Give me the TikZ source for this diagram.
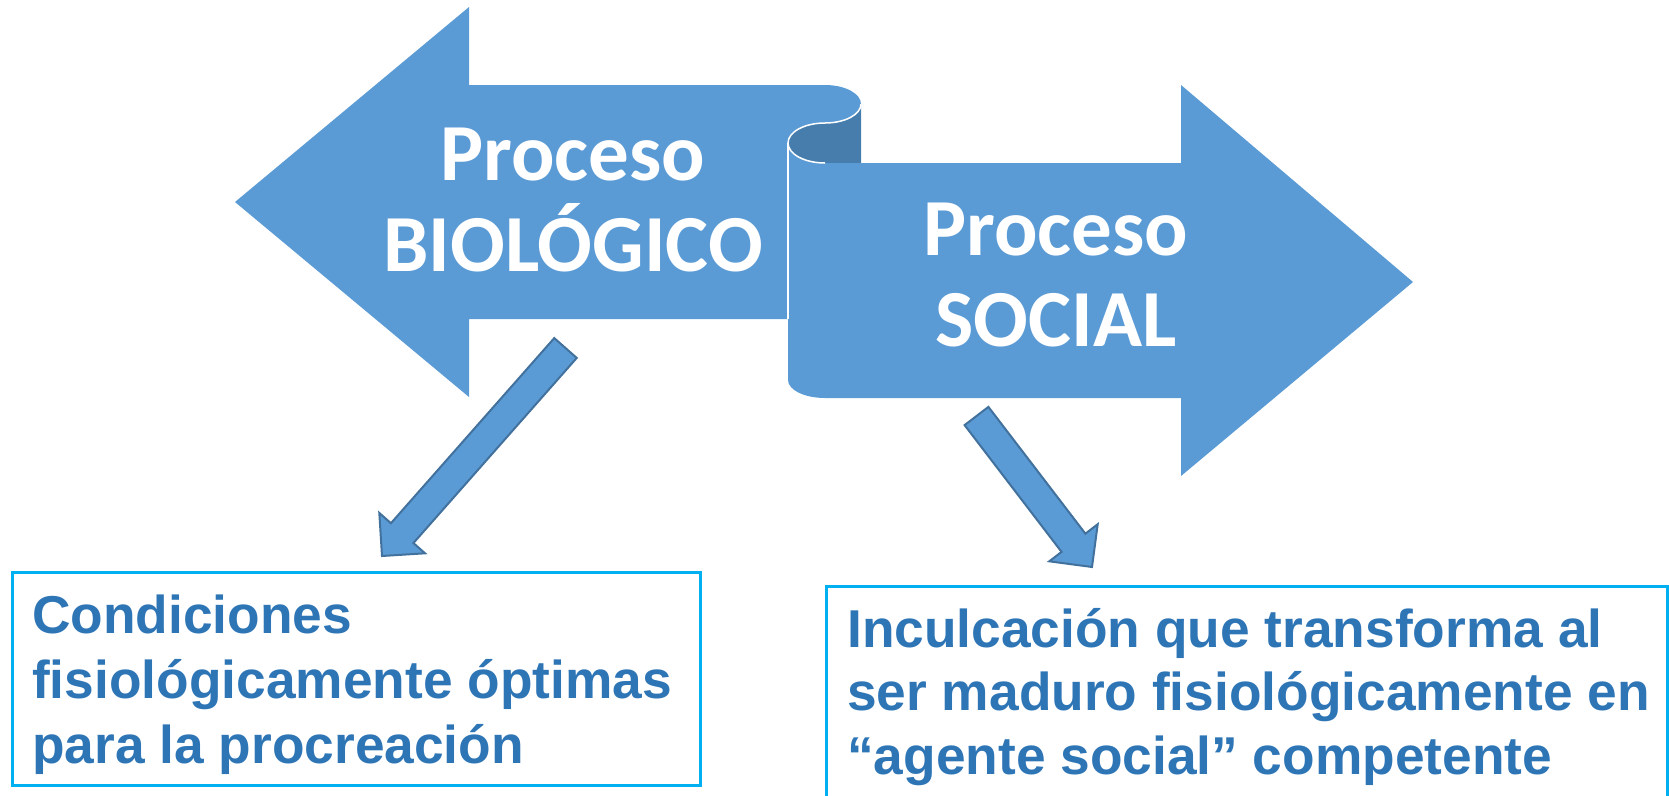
\documentclass[tikz,border=0pt]{standalone}
\usepackage{fontspec}
\setmainfont{Liberation Sans}
\newfontfamily\carlito{Carlito}
\usetikzlibrary{calc}
\definecolor{bigblue}{HTML}{5B9BD5}
\definecolor{rolldark}{HTML}{477DAD}
\definecolor{arredge}{HTML}{41719C}
\definecolor{txtblue}{HTML}{2E75B6}
\definecolor{boxcyan}{HTML}{00B0F0}
\tikzset{
  bigshape/.style={fill=bigblue, draw=none},
  smallarr/.style={fill=bigblue, draw=arredge, line width=2pt, line join=miter},
  titletext/.style={text=white, font=\carlito\bfseries\fontsize{81}{91}\selectfont, align=center, inner sep=0pt},
  boxframe/.style={draw=boxcyan, line width=2.5pt, inner sep=0pt, anchor=north west},
  boxtext/.style={text=txtblue, font=\bfseries\fontsize{53.3}{65}\selectfont, align=left, inner sep=0pt, anchor=base west}
}
\newcommand{\bluearrow}[2]{%
  \coordinate (hb) at ($(#2)!30.5pt!(#1)$);
  \draw[smallarr] ($(#1)!15pt!90:(#2)$) -- ($(hb)!15pt!90:(#2)$) -- ($(hb)!30.5pt!90:(#2)$)
    -- (#2) -- ($(hb)!30.5pt!-90:(#2)$) -- ($(hb)!15pt!-90:(#2)$) -- ($(#1)!15pt!-90:(#2)$) -- cycle;
}
\begin{document}
\begin{tikzpicture}[x=1pt,y=-1pt]
\useasboundingbox (0,0) rectangle (1669,795);
\clip (0,0) rectangle (1669,795);
% left big arrow with top scroll cap
\path[bigshape] (235,202) -- (469,7) -- (469,85) -- (825,85)
  arc[start angle=90, end angle=-90, x radius=36pt, y radius=19pt]
  arc[start angle=90, end angle=180, x radius=37pt, y radius=20pt]
  -- (788,319) -- (469,319) -- (469,397) -- cycle;
% dark inside of roll
\path[fill=rolldark] (861,104)
  arc[start angle=0, end angle=-90, x radius=36pt, y radius=19pt]
  arc[start angle=90, end angle=270, x radius=37pt, y radius=20pt]
  -- (861,163) -- cycle;
% right big arrow
\path[bigshape] (788,143)
  arc[start angle=180, end angle=270, x radius=37pt, y radius=20pt]
  -- (1181,163) -- (1181,85) -- (1413,282) -- (1181,476) -- (1181,398) -- (825,398)
  arc[start angle=270, end angle=180, x radius=37pt, y radius=18pt]
  -- cycle;
% white fold lines
\draw[white, line width=1.5pt] (861,104)
  arc[start angle=0, end angle=-90, x radius=36pt, y radius=19pt]
  arc[start angle=90, end angle=270, x radius=37pt, y radius=20pt];
\draw[white, line width=1.5pt] (788,143) -- (788,319);
% titles (base anchor = last line)
\node[titletext, anchor=base] (bio) at (573,271) {Proceso\\BIOLÓGICO};
\node[titletext, anchor=base] (soc) at (1056,346) {Proceso\\SOCIAL};
% boxes
\node[boxframe, minimum width=688pt, minimum height=213pt] (boxL) at (11,571) {};
\node[boxframe, minimum width=841pt, minimum height=260pt] (boxR) at (825,585) {};
\node[boxtext] (txtL) at (32,763) {Condiciones\\fisiológicamente óptimas\\para la procreación};
\node[boxtext, font=\bfseries\fontsize{53.3}{63.5}\selectfont] (txtR) at (847,774) {Inculcación que transforma al\\ser maduro fisiológicamente en\\“agente social” competente};
% small arrows
\coordinate (t1) at (565.5,348);
\coordinate (p1) at (382,556);
\coordinate (t2) at (976.5,416);
\coordinate (p2) at (1092,567);
\bluearrow{t1}{p1}
\bluearrow{t2}{p2}
\end{tikzpicture}
\end{document}
